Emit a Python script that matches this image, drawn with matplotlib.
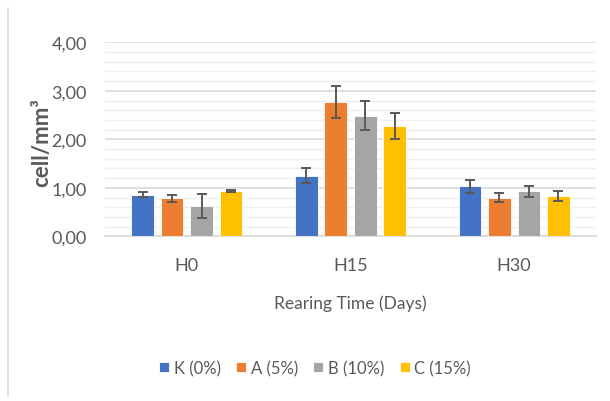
import numpy as np
import matplotlib
matplotlib.use("Agg")
import matplotlib.pyplot as plt
from matplotlib.ticker import MultipleLocator

plt.rcParams['font.family'] = ['Lato', 'DejaVu Sans']

# data
groups = ["H0", "H15", "H30"]
series = ["K (0%)", "A (5%)", "B (10%)", "C (15%)"]
k_vals = [0.86, 1.25, 1.03]
a_vals = [0.78, 2.77, 0.80]
b_vals = [0.63, 2.49, 0.93]
c_vals = [0.93, 2.27, 0.83]
k_err = [0.05, 0.15, 0.13]
a_err = [0.07, 0.33, 0.10]
b_err = [0.25, 0.29, 0.11]
c_err = [0.02, 0.27, 0.10]

values = [k_vals, a_vals, b_vals, c_vals]
errors = [k_err, a_err, b_err, c_err]
colors = ["#4472C4", "#ED7D31", "#A5A5A5", "#FFC000"]
text_col = "#595959"

fig = plt.figure(figsize=(6.10, 4.02), dpi=100)
ax = fig.add_axes([105 / 610, 1 - 237.3 / 402, 491 / 610, (237.3 - 43.3) / 402])

x = np.arange(len(groups))
width = 0.138
step = 0.18
for i, (vals, errs) in enumerate(zip(values, errors)):
    offs = (i - 1.5) * step
    ax.bar(x + offs, vals, width, color=colors[i], edgecolor="white",
           linewidth=0.6, label=series[i], zorder=3)
    ax.errorbar(x + offs, vals, yerr=errs, fmt="none", ecolor="#595959",
                elinewidth=1.4, capsize=3.5, capthick=1.4, zorder=4)

ax.set_xlim(-0.5, 2.5)
ax.set_ylim(0, 4)
ax.yaxis.set_minor_locator(MultipleLocator(0.2))
yt = [0, 1, 2, 3, 4]
ax.set_yticks(yt)
ax.set_yticklabels([f"{v:.2f}".replace(".", ",") for v in yt])
ax.grid(axis="y", which="major", color="#d9d9d9", linewidth=1.2, zorder=0)
ax.grid(axis="y", which="minor", color="#efefef", linewidth=1.0, zorder=0)
for s in ["top", "right", "left"]:
    ax.spines[s].set_visible(False)
ax.spines["bottom"].set_color("#d9d9d9")
ax.spines["bottom"].set_linewidth(1.2)
ax.tick_params(axis="both", which="both", length=0, colors=text_col, labelsize=13)
ax.tick_params(axis="y", pad=13)
ax.tick_params(axis="x", pad=15)
ax.set_xticks(x)
ax.set_xticklabels(groups)

ax.set_xlabel("Rearing Time (Days)", color=text_col, fontsize=12.5, labelpad=15)
fig.text(42 / 610, 1 - 143 / 402, "cell/mm³", rotation=90, color=text_col,
         fontsize=16, fontweight="bold", ha="center", va="center")

fig.legend(loc="center", bbox_to_anchor=(315 / 610, 1 - 369 / 402), ncol=4,
           frameon=False, fontsize=12, labelcolor=text_col, handlelength=0.6,
           handleheight=0.6, handletextpad=0.3, columnspacing=0.9)

fig.add_artist(plt.Line2D([8 / 610, 8 / 610], [1 - 9 / 402, 1 - 397 / 402],
                          color="#d9d9d9", linewidth=1.2))

fig.savefig("out.png", dpi=100)
